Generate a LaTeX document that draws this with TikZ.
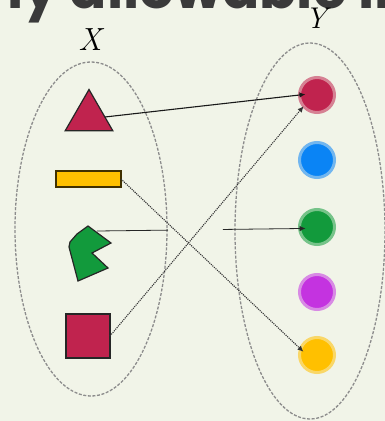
\documentclass[tikz,border=0pt]{standalone}
\usepackage{fontspec}
\newfontfamily\headfont{Poppins}
\usetikzlibrary{shapes.geometric,arrows.meta}
\definecolor{mapbg}{HTML}{F1F4E8}
\definecolor{maptext}{HTML}{3A3A3A}
\definecolor{mapred}{HTML}{C0234E}
\definecolor{mapyellow}{HTML}{FFC000}
\definecolor{mapgreen}{HTML}{129A3C}
\definecolor{mapblue}{HTML}{0A84F5}
\definecolor{mappurple}{HTML}{C433E0}

\begin{document}
\begin{tikzpicture}[x=1pt,y=-1pt,
  setline/.style={draw=black!45,dash pattern=on 3pt off 1.6pt,line width=1.3pt},
  dot/.style={circle,fill=#1,draw=#1!55!mapbg,line width=3pt,minimum size=35pt,inner sep=0pt,outer sep=0pt},
  elem/.style={draw=black!85,line width=1.2pt,inner sep=0pt,outer sep=0pt},
  maparrow/.style={-{Latex[length=6pt,width=5.5pt]},line width=1.1pt}]
\useasboundingbox (0,0) rectangle (385,421);
\fill[mapbg] (0,0) rectangle (385,421);
\clip (0,0) rectangle (385,421);
\node[anchor=base west,font=\headfont\bfseries\fontsize{55}{55}\selectfont,text=maptext,inner sep=0pt] (heading) at (7,8) {ly allowable in};
% the two sets
\draw[setline] (91,229) ellipse [x radius=76,y radius=167];
\draw[setline] (310,231) ellipse [x radius=75,y radius=188];
\node[font=\fontsize{32}{32}\selectfont\itshape] (xlabel) at (90,40) {X};
\node[font=\fontsize{30}{30}\selectfont\itshape] (ylabel) at (316,18) {Y};
% domain X
\node[elem,regular polygon,regular polygon sides=3,minimum size=55pt,fill=mapred] (tri) at (89,117) {};
\node[elem,draw=black!75!mapyellow,rectangle,minimum width=65pt,minimum height=16pt,fill=mapyellow] (bar) at (88.5,179) {};
\filldraw[mapgreen,draw=black!85,line width=1.2pt] (88,226) -- (111,243) -- (92,253) -- (108,268) -- (78,281)
  -- (69,247) -- (70,242) -- (77,234) -- cycle;
\coordinate (pac) at (97,231);
\node[elem,rectangle,minimum size=44pt,fill=mapred] (sq) at (88,336) {};
% codomain Y
\node[dot=mapred] (rdot) at (317,95) {};
\node[dot=mapblue] (bdot) at (317,160) {};
\node[dot=mapgreen] (gdot) at (317,227) {};
\node[dot=mappurple] (pdot) at (317,292) {};
\node[dot=mapyellow] (ydot) at (317,355) {};
% the mapping
\draw[maparrow,black!90,shorten >=-6pt] (tri.east) -- (rdot.180);
\draw[maparrow,black!80,densely dotted] (sq.east) -- (rdot.220);
\draw[maparrow,black!80,densely dotted,shorten >=-4pt] (bar.east) -- (ydot.160);
\draw[maparrow,black!85,line width=0.8pt,dash pattern=on 71pt off 55pt on 300pt,shorten >=-6pt] (pac) -- (gdot.185);
\end{tikzpicture}
\end{document}
